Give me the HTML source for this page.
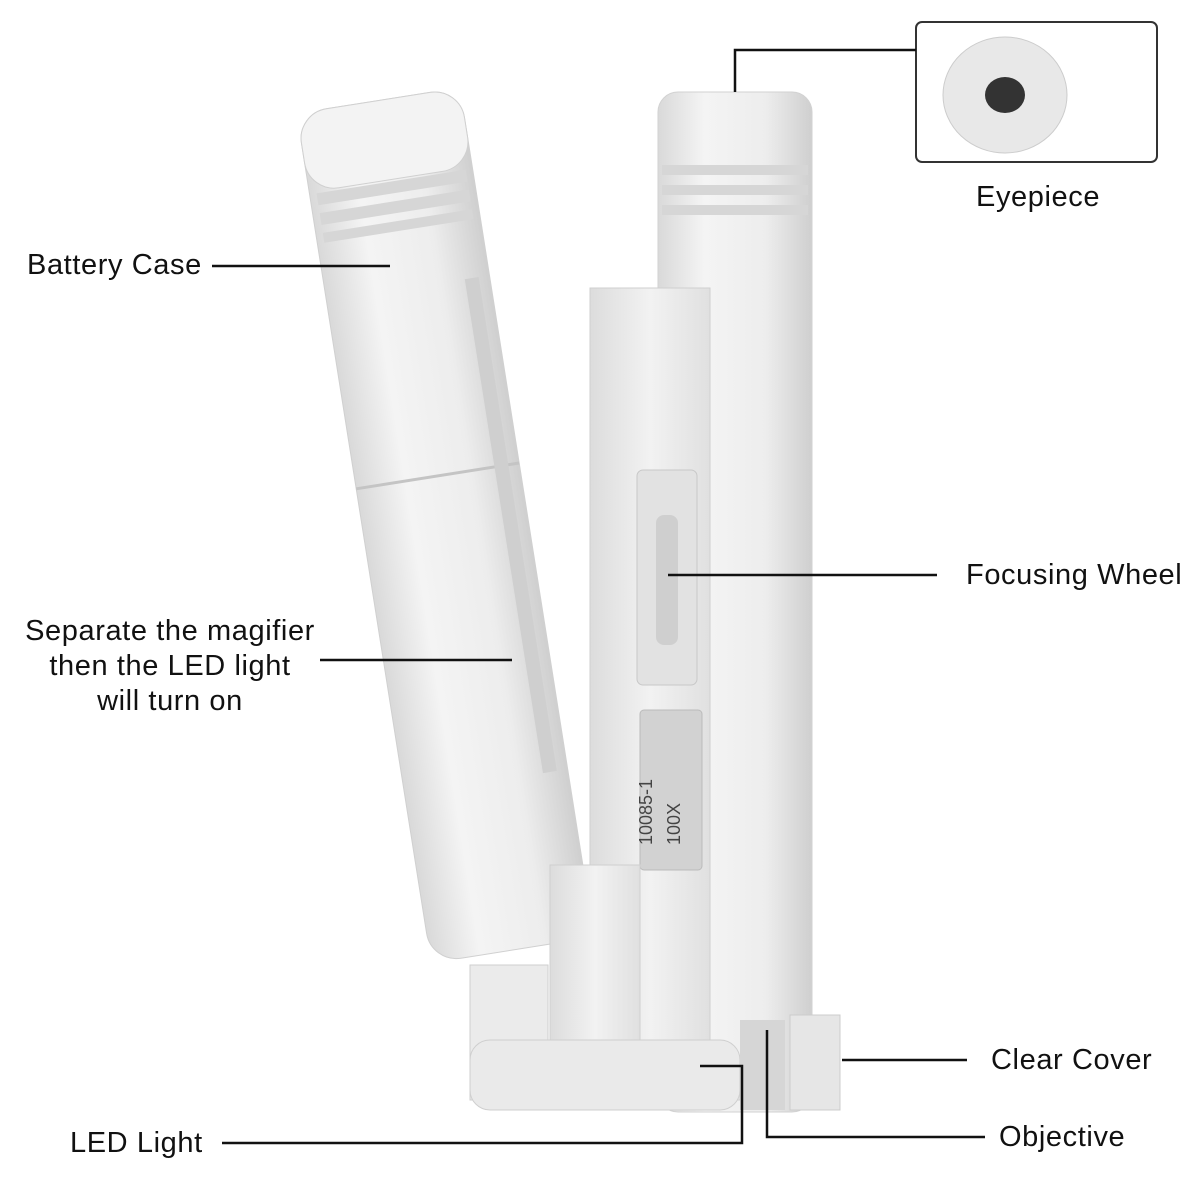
<!DOCTYPE html>
<html><head><meta charset="utf-8"><style>
html,body{margin:0;padding:0;background:#fff;}
svg{display:block}
text{font-family:"Liberation Sans",sans-serif;font-size:29px;fill:#111;letter-spacing:0.6px;}
</style></head><body>
<svg width="1200" height="1200" viewBox="0 0 1200 1200" xmlns="http://www.w3.org/2000/svg">
<defs>
<linearGradient id="tube" x1="0" x2="1" y1="0" y2="0">
<stop offset="0" stop-color="#d9d9d9"/><stop offset="0.3" stop-color="#f4f4f4"/><stop offset="0.7" stop-color="#ededed"/><stop offset="1" stop-color="#cfcfcf"/></linearGradient>
<linearGradient id="blk" x1="0" x2="1" y1="0" y2="0">
<stop offset="0" stop-color="#dcdcdc"/><stop offset="0.5" stop-color="#f2f2f2"/><stop offset="1" stop-color="#e0e0e0"/></linearGradient>
</defs>
<rect width="1200" height="1200" fill="#fff"/>
<g transform="rotate(-9 385 140)">
<rect x="302" y="100" width="165" height="860" rx="30" fill="url(#tube)" stroke="#d0d0d0"/>
<rect x="302" y="100" width="165" height="80" rx="30" fill="#f3f3f3" stroke="#d0d0d0"/>
<rect x="309" y="182" width="151" height="12" fill="#d6d6d6"/>
<rect x="309" y="202" width="151" height="12" fill="#d6d6d6"/>
<rect x="309" y="222" width="151" height="10" fill="#d6d6d6"/>
<line x1="302" y1="480" x2="467" y2="480" stroke="#c4c4c4" stroke-width="3"/>
<rect x="442" y="290" width="14" height="500" fill="#cfcfcf"/>
</g>
<rect x="658" y="92" width="154" height="1020" rx="20" fill="url(#tube)" stroke="#d2d2d2"/>
<rect x="662" y="165" width="146" height="10" fill="#d6d6d6"/>
<rect x="662" y="185" width="146" height="10" fill="#d6d6d6"/>
<rect x="662" y="205" width="146" height="10" fill="#d6d6d6"/>
<rect x="590" y="288" width="120" height="800" fill="url(#blk)" stroke="#cfcfcf"/>
<rect x="637" y="470" width="60" height="215" rx="6" fill="#e2e2e2" stroke="#c8c8c8"/>
<rect x="656" y="515" width="22" height="130" rx="8" fill="#cfcfcf"/>
<rect x="640" y="710" width="62" height="160" rx="4" fill="#d2d2d2" stroke="#bbb"/>
<text transform="translate(652 845) rotate(-90)" style="font-size:18px;fill:#444;letter-spacing:0">10085-1</text>
<text transform="translate(680 845) rotate(-90)" style="font-size:18px;fill:#444;letter-spacing:0">100X</text>
<rect x="550" y="865" width="90" height="220" fill="url(#blk)" stroke="#cfcfcf"/>
<path d="M470 965 L548 965 L548 1085 L740 1085 L740 1100 L470 1100 Z" fill="#ebebeb" stroke="#cfcfcf"/>
<rect x="470" y="1040" width="270" height="70" rx="20" fill="#eaeaea" stroke="#cfcfcf"/>
<rect x="740" y="1020" width="45" height="90" fill="#d6d6d6"/>
<rect x="790" y="1015" width="50" height="95" fill="#e6e6e6" stroke="#ccc"/>
<rect x="916" y="22" width="241" height="140" rx="6" fill="#fff" stroke="#333" stroke-width="2"/>
<ellipse cx="1005" cy="95" rx="62" ry="58" fill="#e8e8e8" stroke="#ccc"/>
<ellipse cx="1005" cy="95" rx="20" ry="18" fill="#333"/>
<g stroke="#111" stroke-width="2.5" fill="none">
<line x1="212" y1="266" x2="390" y2="266"/>
<polyline points="735,92 735,50 916,50"/>
<line x1="668" y1="575" x2="937" y2="575"/>
<line x1="320" y1="660" x2="512" y2="660"/>
<line x1="842" y1="1060" x2="967" y2="1060"/>
<polyline points="767,1030 767,1137 985,1137"/>
<polyline points="222,1143 742,1143 742,1066 700,1066"/>
</g>
<text x="27" y="274">Battery Case</text>
<text x="976" y="206">Eyepiece</text>
<text x="966" y="584">Focusing Wheel</text>
<text x="170" y="640" text-anchor="middle">Separate the magifier</text>
<text x="170" y="675" text-anchor="middle">then the LED light</text>
<text x="170" y="710" text-anchor="middle">will turn on</text>
<text x="991" y="1069">Clear Cover</text>
<text x="999" y="1146">Objective</text>
<text x="70" y="1152">LED Light</text>
</svg>
</body></html>
